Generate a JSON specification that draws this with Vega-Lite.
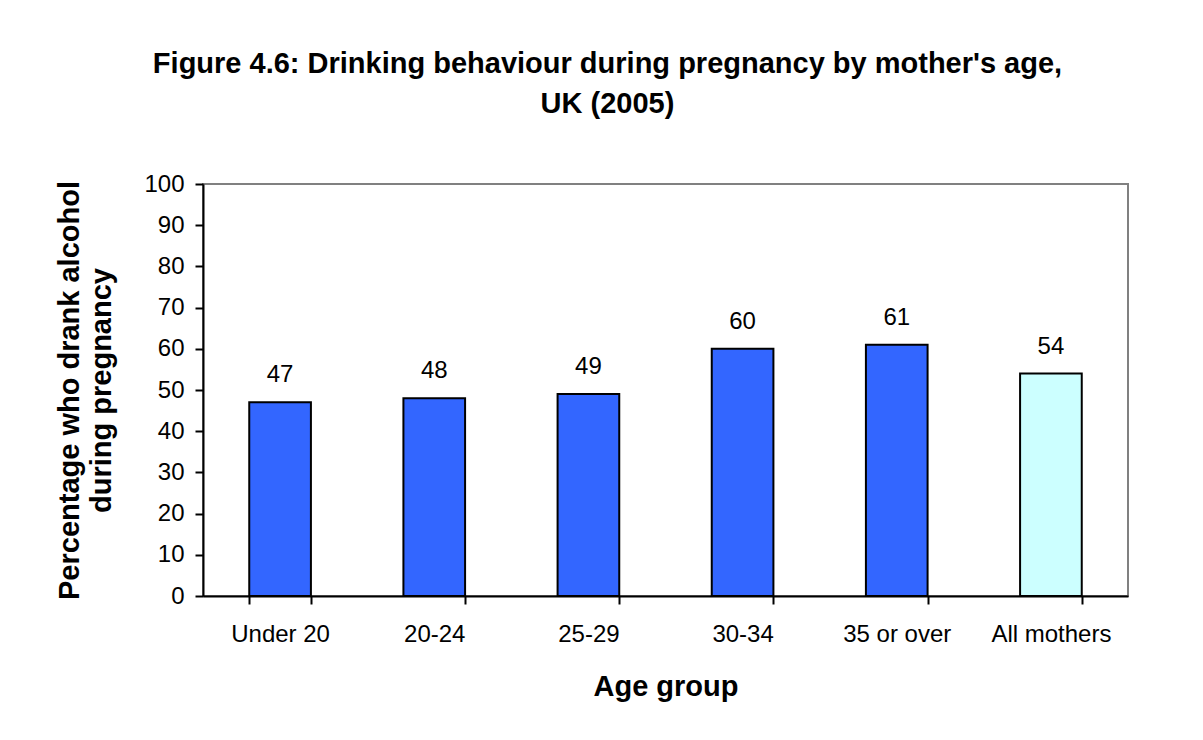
{
  "$schema": "https://vega.github.io/schema/vega-lite/v6.json",
  "autosize": "none",
  "width": 925,
  "height": 412,
  "padding": {"left": 203, "top": 184, "right": 75, "bottom": 144},
  "background": "white",
  "config": {
    "font": "Liberation Sans",
    "view": {"stroke": "#808080", "strokeWidth": 2}
  },
  "title": {
    "text": ["Figure 4.6: Drinking behaviour during pregnancy by mother's age,", "UK (2005)"],
    "font": "Liberation Sans",
    "fontSize": 29,
    "fontWeight": "bold",
    "color": "black",
    "anchor": "middle",
    "lineHeight": 40,
    "dx": -58,
    "offset": 53
  },
  "data": {
    "values": [
      {"group": "Under 20", "kind": "Age group", "pct": 47},
      {"group": "20-24", "kind": "Age group", "pct": 48},
      {"group": "25-29", "kind": "Age group", "pct": 49},
      {"group": "30-34", "kind": "Age group", "pct": 60},
      {"group": "35 or over", "kind": "Age group", "pct": 61},
      {"group": "All mothers", "kind": "All", "pct": 54}
    ]
  },
  "encoding": {
    "x": {
      "field": "group",
      "type": "nominal",
      "sort": null,
      "scale": {"paddingInner": 0.6, "paddingOuter": 0.3},
      "axis": {
        "title": "Age group",
        "titleFont": "Liberation Sans",
        "titleFontSize": 29,
        "titleFontWeight": "bold",
        "titleColor": "black",
        "titlePadding": 26,
        "labelAngle": 0,
        "labelFontSize": 24,
        "labelColor": "black",
        "labelPadding": 18,
        "domainColor": "black",
        "domainWidth": 2,
        "tickColor": "black",
        "tickWidth": 2,
        "tickSize": 8,
        "tickBand": "extent",
        "grid": false
      }
    },
    "y": {
      "field": "pct",
      "type": "quantitative",
      "scale": {"domain": [0, 100], "nice": false},
      "axis": {
        "title": ["Percentage who drank alcohol", "during pregnancy"],
        "titleFont": "Liberation Sans",
        "titleFontSize": 29,
        "titleFontWeight": "bold",
        "titleColor": "black",
        "titleLineHeight": 32,
        "titlePadding": 27,
        "values": [0, 10, 20, 30, 40, 50, 60, 70, 80, 90, 100],
        "labelFontSize": 24,
        "labelColor": "black",
        "labelPadding": 11,
        "domainColor": "black",
        "domainWidth": 2,
        "tickColor": "black",
        "tickWidth": 2,
        "tickSize": 8,
        "grid": false
      }
    }
  },
  "layer": [
    {
      "mark": {"type": "bar", "stroke": "black", "strokeWidth": 2},
      "encoding": {
        "color": {
          "field": "kind",
          "type": "nominal",
          "scale": {"domain": ["Age group", "All"], "range": ["#3366FF", "#CCFFFF"]},
          "legend": null
        }
      }
    },
    {
      "mark": {"type": "text", "baseline": "alphabetic", "dy": -20, "fontSize": 24, "color": "black"},
      "encoding": {"text": {"field": "pct", "type": "quantitative"}}
    }
  ]
}
